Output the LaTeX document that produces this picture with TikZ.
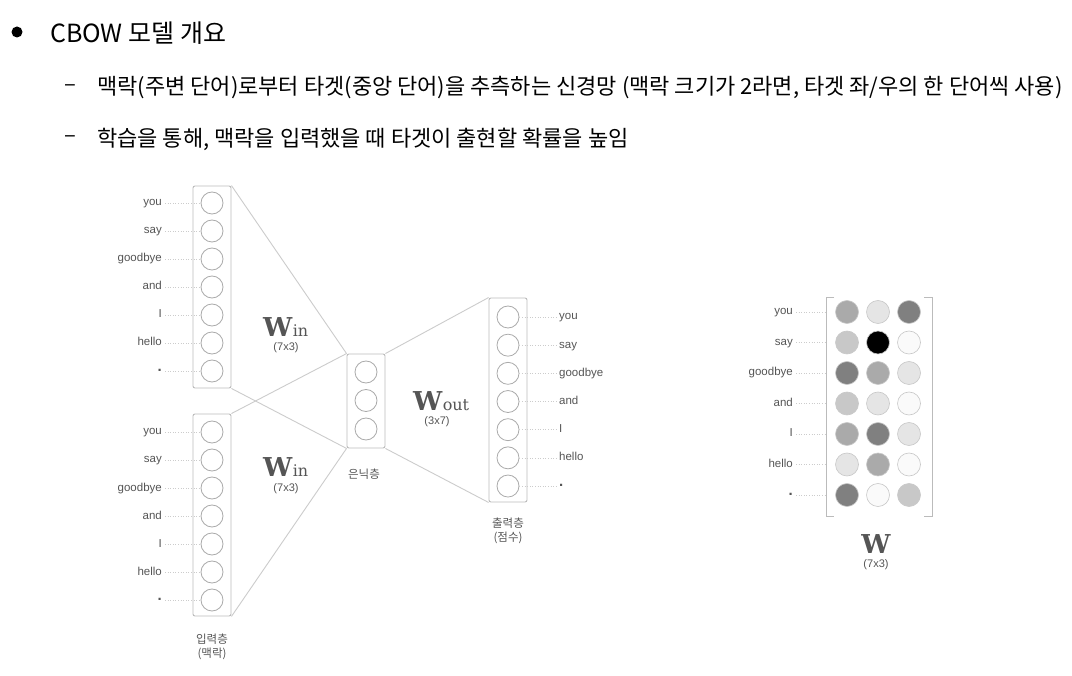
\documentclass[tikz,border=0pt]{standalone}
\usepackage{fontspec}
\setmainfont{Noto Sans CJK KR}
\newfontfamily\kor{Noto Sans CJK KR}
\newfontfamily\labf{Liberation Sans}
\newfontfamily\wser{DejaVu Serif}
\definecolor{boxc}{HTML}{BBBBBB}
\definecolor{circc}{HTML}{AAAAAA}
\definecolor{linec}{HTML}{CCCCCC}
\definecolor{labc}{HTML}{555555}
\definecolor{wc}{HTML}{555555}
\definecolor{gA}{HTML}{808080}
\definecolor{gB}{HTML}{AAAAAA}
\definecolor{gC}{HTML}{C8C8C8}
\definecolor{gD}{HTML}{E5E5E5}
\definecolor{gE}{HTML}{FAFAFA}
\newcommand{\wdot}{\raisebox{2.5pt}{\bfseries\fontsize{15}{15}\selectfont .}}
\begin{document}
\begin{tikzpicture}[x=1pt,y=-1pt,
  layer/.style={draw=boxc,line width=0.9pt,rounded corners=2pt,minimum width=38pt,inner sep=0pt},
  unit/.style={circle,draw=circc,line width=0.8pt,minimum size=22pt,inner sep=0pt},
  mcell/.style={circle,draw=gC,line width=0.6pt,minimum size=23pt,inner sep=0pt},
  wlab/.style={font=\labf\fontsize{11.5}{13}\selectfont,text=labc,inner sep=0pt,text height=8pt,text depth=2pt},
  klab/.style={font=\kor\fontsize{11.5}{13}\selectfont,text=labc,inner sep=0pt},
  dimlab/.style={font=\labf\fontsize{11}{13}\selectfont,text=labc,inner sep=0pt},
  leader/.style={draw=linec,dotted,line width=0.6pt},
  conn/.style={draw=linec,line width=0.9pt},
  body/.style={font=\kor\fontsize{22}{26}\selectfont,anchor=west,inner sep=0pt},
  wbig/.style={font=\wser\bfseries\fontsize{26}{28}\selectfont,text=wc,inner sep=0pt,anchor=base west},
  wsub/.style={font=\wser\fontsize{16}{18}\selectfont,text=wc,inner sep=0pt,anchor=base west}
]
\path[use as bounding box,fill=white] (0,0) rectangle (1072,676);

% header
\fill (17,32) circle (5.5pt);
\node[body,font=\kor\fontsize{25}{28}\selectfont] (title) at (50,33) {CBOW 모델 개요};
\node[body] (dashA) at (64,88) {–};
\node[body] (lineA) at (97,88) {맥락(주변 단어)로부터 타겟(중앙 단어)을 추측하는 신경망 (맥락 크기가 2라면, 타겟 좌/우의 한 단어씩 사용)};
\node[body] (dashB) at (64,139) {–};
\node[body] (lineB) at (97,139) {학습을 통해, 맥락을 입력했을 때 타겟이 출현할 확률을 높임};

% layers
\node[layer,minimum height=202pt] (inA) at (212,287) {};
\node[layer,minimum height=202pt] (inB) at (212,515) {};
\node[layer,minimum height=94pt] (hid) at (366,401) {};
\node[layer,minimum height=204pt] (out) at (508,400) {};

% connectors
\draw[conn] (inA.north east) -- (hid.north west);
\draw[conn] (inA.south east) -- (hid.south west);
\draw[conn] (inB.north east) -- (hid.north west);
\draw[conn] (inB.south east) -- (hid.south west);
\draw[conn] (hid.north east) -- (out.north west);
\draw[conn] (hid.south east) -- (out.south west);

% units and word labels
\foreach \w [count=\i from 0] in {you,say,goodbye,and,I,hello,\wdot} {
  \node[unit] (a\i) at (212,203+28*\i) {};
  \node[wlab,anchor=east] (la\i) at (162,203+28*\i) {\w};
  \draw[leader] ([xshift=3pt]la\i.east) -- (a\i.west);
  \node[unit] (b\i) at (212,432+28*\i) {};
  \node[wlab,anchor=east] (lb\i) at (162,432+28*\i) {\w};
  \draw[leader] ([xshift=3pt]lb\i.east) -- (b\i.west);
  \node[unit] (o\i) at (508,317+28.17*\i) {};
  \node[wlab,anchor=west] (lo\i) at (559,317+28.17*\i) {\w};
  \draw[leader] (o\i.east) -- ([xshift=-3pt]lo\i.west);
}
\foreach \i in {0,1,2} { \node[unit] (h\i) at (366,372+28.5*\i) {}; }

% weight labels
\node[wbig] (winA) at (263,337) {W};
\node[wsub] at (winA.base east) {in};
\node[dimlab] (dA) at (286,348) {(7x3)};
\node[wbig] (winB) at (263,477) {W};
\node[wsub] at (winB.base east) {in};
\node[dimlab] (dB) at (286,489) {(7x3)};
\node[wbig] (wout) at (413,411) {W};
\node[wsub] at (wout.base east) {out};
\node[dimlab] (dC) at (437,422) {(3x7)};

% layer names
\node[klab] (hname) at (364,474) {은닉층};
\node[klab] (oname) at (508,523) {출력층};
\node[klab] (oname2) at (508,538) {(점수)};
\node[klab] (iname) at (212,639) {입력층};
\node[klab] (iname2) at (212,654) {(맥락)};

% matrix W
\draw[draw=boxc,line width=0.8pt] (834,297) -- (826,297) -- (826,516) -- (834,516);
\draw[draw=boxc,line width=0.8pt] (924,297) -- (932,297) -- (932,516) -- (924,516);
\foreach \w/\ca/\cb/\cc [count=\i from 0] in {you/gB/gD/gA, say/gC/black/gE, goodbye/gA/gB/gD, and/gC/gD/gE, I/gB/gA/gD, hello/gD/gB/gE, \wdot/gA/gE/gC} {
  \node[wlab,anchor=east] (lm\i) at (793,312+30.5*\i) {\w};
  \node[mcell,fill=\ca] (m\i a) at (847,312+30.5*\i) {};
  \node[mcell,fill=\cb] (m\i b) at (878,312+30.5*\i) {};
  \node[mcell,fill=\cc] (m\i c) at (909,312+30.5*\i) {};
  \draw[leader] ([xshift=3pt]lm\i.east) -- (826,312+30.5*\i);
}
\node[wbig,anchor=base] (wm) at (876,553) {W};
\node[dimlab] (dm) at (876,565) {(7x3)};
\end{tikzpicture}
\end{document}
